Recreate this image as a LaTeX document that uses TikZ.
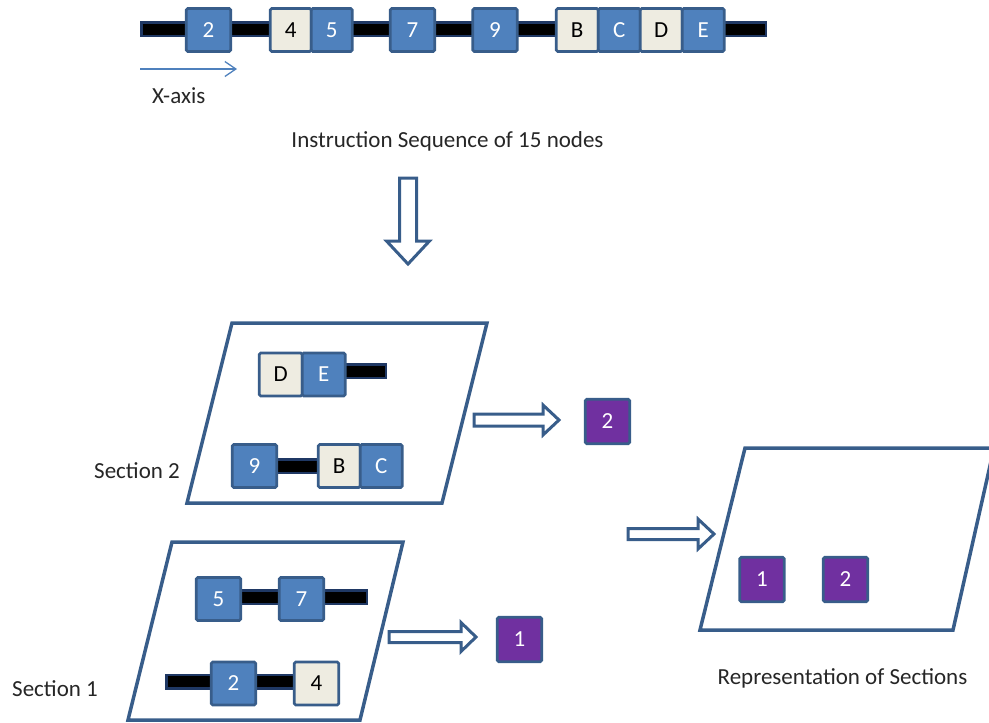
\documentclass[tikz,border=0pt]{standalone}
\usepackage{fontspec}
\setmainfont{Carlito}
\usetikzlibrary{arrows.meta,calc,backgrounds}

\definecolor{cellblue}{HTML}{4F81BD}
\definecolor{edgeblue}{HTML}{385D8A}
\definecolor{cellcream}{HTML}{EEECE1}
\definecolor{barnavy}{HTML}{1F3864}
\definecolor{secpurple}{HTML}{7030A0}
\definecolor{labelgrey}{HTML}{262626}

\tikzset{
  cell/.style={draw=edgeblue, line width=2.8pt, rounded corners=1.5pt,
    minimum width=#1, minimum height=43pt, inner sep=0pt,
    font=\fontsize{23}{23}\selectfont},
  blue cell/.style={cell=#1, fill=cellblue, text=white},
  cream cell/.style={cell=#1, fill=cellcream, text=black},
  purple cell/.style={cell=44.5pt, minimum height=44.5pt, fill=secpurple, text=white},
  barouter/.style={line width=16pt, draw=barnavy, line cap=butt},
  barinner/.style={line width=11pt, draw=black, line cap=butt},
  frame/.style={draw=edgeblue, line width=3.5pt, line join=miter},
  hollow/.style={draw=edgeblue, fill=white, line width=3pt, line join=miter},
  axisarrow/.style={draw=cellblue, line width=1.3pt, -{Straight Barb[length=11pt,width=15pt,line width=1.3pt]}},
  labeltext/.style={text=labelgrey, inner sep=0pt, font=\fontsize{23}{26}\selectfont},
  pics/rightblock/.style n args={4}{code={%
    \draw[hollow] (0,-#2) -- (#1-#4,-#2) -- (#1-#4,-#3) -- (#1,0)
      -- (#1-#4,#3) -- (#1-#4,#2) -- (0,#2) -- cycle;}},
  pics/downblock/.style n args={4}{code={%
    \draw[hollow] (-#2,0) -- (-#2,#1-#4) -- (-#3,#1-#4) -- (0,#1)
      -- (#3,#1-#4) -- (#2,#1-#4) -- (#2,0) -- cycle;}}
}

% a black bar with a navy outline between two points; free ends are trimmed
\newcommand\chainbar[2]{%
  \draw[barouter] (#1) -- (#2);
  \draw[barinner, shorten <=2.5pt, shorten >=2.5pt] (#1) -- (#2);}

\begin{document}
\begin{tikzpicture}[x=1pt,y=-1pt]
\useasboundingbox (0,0) rectangle (989,723);

% ---------------- instruction sequence ----------------
\coordinate (tl) at (140,29);
\coordinate (tr) at (767,29);
\node[blue cell=44.5pt]  (t2) at (208.5,30) {2};
\node[cream cell=41pt]   (t4) at (290.75,30) {4};
\node[blue cell=41pt]    (t5) at (331.75,30) {5};
\node[blue cell=44.5pt]  (t7) at (412.5,30) {7};
\node[blue cell=44.5pt]  (t9) at (495,30) {9};
\node[cream cell=42pt]   (tB) at (577.25,30) {B};
\node[blue cell=42pt]    (tC) at (619.25,30) {C};
\node[cream cell=42pt]   (tD) at (661.25,30) {D};
\node[blue cell=42pt]    (tE) at (703.25,30) {E};
\begin{scope}[on background layer]
  \chainbar{tl}{tr}
\end{scope}

% x-axis hint
\coordinate (xs) at (140,69);
\coordinate (xe) at (237,69);
\draw[axisarrow] (xs) -- (xe);
\node[labeltext, anchor=base west] (xlab) at (152,103) {X-axis};

\node[labeltext, anchor=base] (seqlab) at (447.5,147) {Instruction Sequence of 15 nodes};

% split arrow
\coordinate (downs) at (408,178);
\pic at (downs) {downblock={86}{8.5}{21.5}{23}};

% ---------------- section 2 ----------------
\draw[frame] (232,323) -- (487,323) -- (442,503) -- (187,503) -- cycle;
\coordinate (s2end) at (387,371);
\node[cream cell=43pt] (s2D) at (280.75,374.5) {D};
\node[blue cell=43pt]  (s2E) at (323.75,374.5) {E};
\node[blue cell=44.5pt] (s29) at (254.5,466) {9};
\node[cream cell=42pt]  (s2B) at (339.25,466) {B};
\node[blue cell=42pt]   (s2C) at (381.25,466) {C};
\begin{scope}[on background layer]
  \chainbar{s2E.center |- s2end}{s2end}
  \chainbar{s29.center}{s2B.center}
\end{scope}

\node[labeltext, anchor=base west] (sec2lab) at (94,478) {Section 2};

\coordinate (a2s) at (474,420);
\pic at (a2s) {rightblock={85}{6}{15}{16}};
\node[purple cell] (p2) at (607.5,421.5) {2};

% ---------------- section 1 ----------------
\draw[frame] (172,542) -- (403,542) -- (360,720) -- (128,720) -- cycle;
\coordinate (s1end) at (368,597);
\coordinate (s1start) at (165,681.5);
\node[blue cell=44.5pt]  (s15) at (218.5,599) {5};
\node[blue cell=44.5pt]  (s17) at (301.5,599) {7};
\node[blue cell=44.5pt]  (s12) at (233.5,683.5) {2};
\node[cream cell=44.5pt] (s14) at (316.5,683.5) {4};
\begin{scope}[on background layer]
  \chainbar{s15.center |- s1end}{s1end}
  \chainbar{s1start}{s1start -| s14.center}
\end{scope}

\node[labeltext, anchor=base west] (sec1lab) at (12,696) {Section 1};

\coordinate (a1s) at (389,637);
\pic at (a1s) {rightblock={87}{5.5}{14.5}{15}};
\node[purple cell] (p1) at (519.5,639.5) {1};

% ---------------- representation of sections ----------------
\coordinate (ars) at (628,534);
\pic at (ars) {rightblock={86}{5.5}{15}{16}};
\draw[frame] (745,448) -- (994,448) -- (953,630) -- (700,630) -- cycle;
\node[purple cell] (r1) at (762,579.5) {1};
\node[purple cell] (r2) at (845.5,579.5) {2};

\node[labeltext, anchor=base] (replab) at (842.5,684) {Representation of Sections};
\end{tikzpicture}
\end{document}
